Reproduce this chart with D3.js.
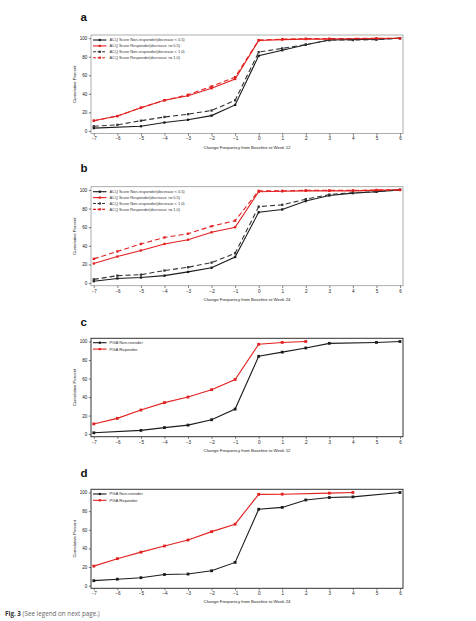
<!DOCTYPE html>
<html><head><meta charset="utf-8">
<script src="https://cdn.jsdelivr.net/npm/d3@7"></script>
<style>body{margin:0;background:#fff;}svg{display:block;}</style>
</head><body>
<svg id="c" width="476" height="621"></svg>
<script>
// ---------- data ----------
const xTicks = [-7,-6,-5,-4,-3,-2,-1,0,1,2,3,4,5,6];
const yTicks = [0,20,40,60,80,100];

// panel a (week 12, ACQ)
const aNonResp05X = [-7,-5,-4,-3,-2,-1,0,1,2,3,5,6];
const aNonResp05Y = [3,5,9,12,16.5,28,81,87,93,98,99,100];
const aResp05X = [-7,-6,-5,-4,-3,-2,-1,0,1,2,3,5,6];
const aResp05Y = [11,16,25,33,38,46,56,97.5,98.5,99,99,99.5,100];
const aNonResp10X = [-7,-6,-5,-4,-3,-2,-1,0,1,2,3,4,5,6];
const aNonResp10Y = [5,6.5,11,15,18,22,33,85,89,93,98,98,98.5,100];
const aResp10X = [-7,-6,-5,-4,-3,-2,-1,0,1,2,3,5,6];
const aResp10Y = [11,16,25,33,39,48,58,98,99,99.5,99.5,100,100];

// panel b (week 24, ACQ)
const bNonResp05X = [-7,-6,-5,-4,-3,-2,-1,0,1,2,3,4,5,6];
const bNonResp05Y = [2,5,6,8,12,16.5,28,76,79,88,94,96.5,98,100];
const bResp05X = [-7,-6,-5,-4,-3,-2,-1,0,1,2,3,4,5,6];
const bResp05Y = [21,28.5,35,42,46.5,54.5,60,98,98.5,99,99,99,99.5,100];
const bNonResp10X = [-7,-6,-5,-4,-3,-2,-1,0,1,2,3,4,5,6];
const bNonResp10Y = [4,8,9,13.5,17,22,32,82,84,90,95,97,98,100];
const bResp10X = [-7,-6,-5,-4,-3,-2,-1,0,1,2,3,4,5,6];
const bResp10Y = [26,34,42,49,53,61,67,99,99,99.5,99.5,99.5,100,100];

// panel c (week 12, PGA)
const cNonRespX = [-7,-5,-4,-3,-2,-1,0,1,2,3,5,6];
const cNonRespY = [1.4,4,7,9.7,15.5,27,84,88.5,93,98,99,100];
const cRespX = [-7,-6,-5,-4,-3,-2,-1,0,1,2];
const cRespY = [11,17,26,34,40,48,59,97,99,100];

// panel d (week 24, PGA)
const dNonRespX = [-7,-6,-5,-4,-3,-2,-1,0,1,2,3,4,6];
const dNonRespY = [5.4,7,8.6,12,12.5,16,25,82,84,92,94.6,95.3,100];
const dRespX = [-7,-6,-5,-4,-3,-2,-1,0,1,3,4];
const dRespY = [21,29,36,42.6,49,58,66,98,98.2,99.3,100];

const acqLabels = ["ACQ Score Non-responder(decrease < 0.5)","ACQ Score Responder(decrease >= 0.5)",
                   "ACQ Score Non-responder(decrease < 1.0)","ACQ Score Responder(decrease >= 1.0)"];
const pgaLabels = ["PGA Non-reonder","PGA Reponder"];
const panelLetters = ["a","b","c","d"];
const xTitles = ["Change Frequency from Baseline to Week 12","Change Frequency from Baseline to Week 24",
                 "Change Frequency from Baseline to Week 12","Change Frequency from Baseline to Week 24"];
const yTitle = "Cumulative Percent";

// ---------- drawing ----------
const RED = "#e3201f", BLK = "#1b1b1b";
const svg = d3.select("#c");
const FONT = "Liberation Sans, Arial, sans-serif";

const zip = (xs, ys) => xs.map((x,i)=>({x, y: ys[i]}));

const panels = [
  {letter:0, top:35, bottom:133.5, frame:"#9a9a9a", legendY:40, legendStep:5.9, ms:2.3,
   series:[{d:zip(aNonResp05X,aNonResp05Y),c:BLK,dash:null},{d:zip(aResp05X,aResp05Y),c:RED,dash:null},
           {d:zip(aNonResp10X,aNonResp10Y),c:"#333",dash:"5,3"},{d:zip(aResp10X,aResp10Y),c:RED,dash:"5,3"}],
   labels:acqLabels},
  {letter:1, top:186.7, bottom:285.7, frame:"#9a9a9a", legendY:191.7, legendStep:5.9, ms:2.3,
   series:[{d:zip(bNonResp05X,bNonResp05Y),c:BLK,dash:null},{d:zip(bResp05X,bResp05Y),c:RED,dash:null},
           {d:zip(bNonResp10X,bNonResp10Y),c:"#333",dash:"5,3"},{d:zip(bResp10X,bResp10Y),c:RED,dash:"5,3"}],
   labels:acqLabels},
  {letter:2, top:338.3, bottom:436.7, frame:"#333", legendY:342.7, legendStep:6.4, ms:2.8,
   series:[{d:zip(cNonRespX,cNonRespY),c:BLK,dash:null},{d:zip(cRespX,cRespY),c:RED,dash:null}],
   labels:pgaLabels},
  {letter:3, top:489.3, bottom:588.3, frame:"#333", legendY:494, legendStep:6.3, ms:2.8,
   series:[{d:zip(dNonRespX,dNonRespY),c:BLK,dash:null},{d:zip(dRespX,dRespY),c:RED,dash:null}],
   labels:pgaLabels}
];

const letterY = [21, 172, 325.5, 477];

panels.forEach((p, pi) => {
  const left = 91, right = 403;
  const x = d3.scaleLinear().domain([-7,6]).range([93.8,400]);
  const y = d3.scaleLinear().domain([0,100]).range([p.bottom-2.6, p.top+3.2]);
  const g = svg.append("g");

  // panel letter
  svg.append("text").attr("x",80.5).attr("y",letterY[pi]).text(panelLetters[p.letter])
    .attr("font-family",FONT).attr("font-weight","bold").attr("font-size",11.5).attr("fill","#111");

  // frame
  g.append("rect").attr("x",left).attr("y",p.top).attr("width",right-left).attr("height",p.bottom-p.top)
    .attr("fill","none").attr("stroke",p.frame).attr("stroke-width",pi<2?0.8:1);

  // axes
  const xa = g.append("g").attr("transform",`translate(0,${p.bottom})`)
    .call(d3.axisBottom(x).tickValues(xTicks).tickSize(2.2).tickPadding(1.5).tickFormat(d3.format("d")));
  const ya = g.append("g").attr("transform",`translate(${left},0)`)
    .call(d3.axisLeft(y).tickValues(yTicks).tickSize(2.2).tickPadding(1.5));
  [xa,ya].forEach(a=>{
    a.select(".domain").remove();
    a.selectAll("line").attr("stroke","#444").attr("stroke-width",0.7);
    a.selectAll("text").attr("font-family",FONT).attr("font-size",4.6).attr("fill","#222");
  });

  // titles
  g.append("text").attr("x",(left+right)/2).attr("y",p.bottom+15).attr("text-anchor","middle")
    .attr("font-family",FONT).attr("font-size",4.3).attr("fill","#222").text(xTitles[pi]);
  g.append("text").attr("transform",`translate(76,${(p.top+p.bottom)/2}) rotate(-90)`)
    .attr("text-anchor","middle").attr("font-family",FONT).attr("font-size",4.3).attr("fill","#222").text(yTitle);

  // lines
  const line = d3.line().x(d=>x(d.x)).y(d=>y(d.y));
  p.series.forEach(s=>{
    g.append("path").datum(s.d).attr("d",line).attr("fill","none").attr("stroke",s.c)
      .attr("stroke-width",1.1).attr("stroke-dasharray",s.dash);
    g.selectAll(null).data(s.d).enter().append("rect")
      .attr("x",d=>x(d.x)-p.ms/2).attr("y",d=>y(d.y)-p.ms/2).attr("width",p.ms).attr("height",p.ms).attr("fill",s.c);
  });

  // legend
  p.series.forEach((s,i)=>{
    const ly = p.legendY + i*p.legendStep;
    g.append("line").attr("x1",93).attr("x2",106.5).attr("y1",ly).attr("y2",ly)
      .attr("stroke",s.c).attr("stroke-width",1.1).attr("stroke-dasharray",s.dash ? "3,1.5" : null);
    g.append("rect").attr("x",99.8-1.1).attr("y",ly-1.1).attr("width",2.2).attr("height",2.2).attr("fill",s.c);
    g.append("text").attr("x",109.5).attr("y",ly+1.4).attr("font-family",FONT).attr("font-size",pi<2?3.9:4.2)
      .attr("fill","#333").text(p.labels[i]);
  });
});

// caption
const cap = svg.append("text").attr("x",5).attr("y",616).attr("font-family","Open Sans, Liberation Sans, sans-serif").attr("font-size",6.3);
cap.append("tspan").attr("font-weight","bold").attr("fill","#333").text("Fig. 3");
cap.append("tspan").attr("fill","#666").text(" (See legend on next page.)");
</script>
</body></html>
